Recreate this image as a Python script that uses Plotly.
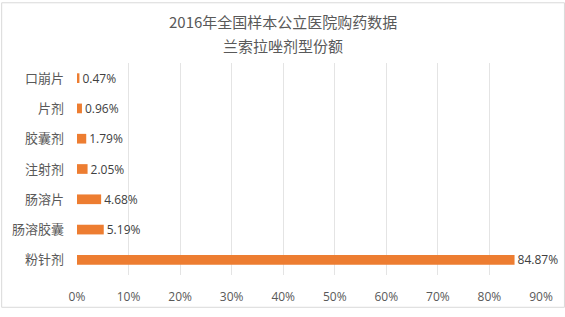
import plotly.graph_objects as go

categories = ["口崩片", "片剂", "胶囊剂", "注射剂", "肠溶片", "肠溶胶囊", "粉针剂"]
shares = [0.47, 0.96, 1.79, 2.05, 4.68, 5.19, 84.87]
tick_vals = [0, 10, 20, 30, 40, 50, 60, 70, 80, 90]
tick_text = [f"{v}%" for v in tick_vals]
title_lines = ["2016年全国样本公立医院购药数据", "兰索拉唑剂型份额"]

W, H = 565, 317
L, R, T, B = 76, 24, 63, 34
pw, ph = W - L - R, H - T - B

fig = go.Figure(go.Bar(
    x=shares, y=categories, orientation="h",
    marker=dict(color="#ED7D31", line=dict(width=0)),
    width=0.32,
    text=[f"{v:.2f}%" for v in shares],
    textposition="outside",
    constraintext="none",
    textfont=dict(family="Open Sans, Liberation Sans, sans-serif", size=12, color="#404040"),
    cliponaxis=False,
))

fig.update_layout(
    width=W, height=H,
    margin=dict(l=L, r=R, t=T, b=B),
    paper_bgcolor="white", plot_bgcolor="white",
    showlegend=False,
    xaxis=dict(range=[0, 90], tickvals=tick_vals, ticktext=tick_text,
               showgrid=True, gridcolor="#E4E4E4", gridwidth=1,
               zeroline=False, showline=False, ticks="",
               ticklabelstandoff=13,
               tickfont=dict(family="Open Sans, Liberation Sans, sans-serif", size=12, color="#595959")),
    yaxis=dict(categoryorder="array", categoryarray=categories[::-1],
               showgrid=False, zeroline=False, showline=False, ticks="",
               ticklabelstandoff=12,
               tickfont=dict(family="Noto Sans CJK SC", size=13, color="#595959")),
)

for i, line in enumerate(title_lines):
    fig.add_annotation(text=line, xref="paper", yref="paper",
                       x=(W / 2 - L) / pw, y=(H - B - (20 + 25 * i)) / ph,
                       xanchor="center", yanchor="middle", showarrow=False,
                       font=dict(family="Noto Sans CJK SC", size=15, color="#595959"))

fig.add_shape(type="rect", xref="paper", yref="paper",
              x0=(0.5 - L) / pw, x1=(W - 0.5 - L) / pw,
              y0=-(B - 0.5) / ph, y1=(H - B - 0.5) / ph,
              line=dict(color="#D9D9D9", width=1), fillcolor="rgba(0,0,0,0)", layer="below")

fig.write_html("out.html")
